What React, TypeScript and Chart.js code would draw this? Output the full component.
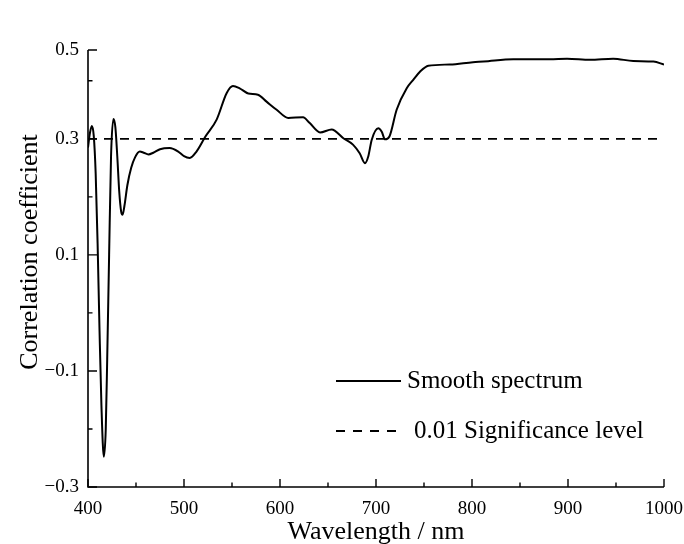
import React, { useEffect, useRef } from 'react';
import { Chart, registerables } from 'chart.js';

Chart.register(...registerables);

// ---- data ----
const wavelengths = [
  400, 402, 404, 406, 408, 410, 412, 414, 416.5, 418.5, 420, 422, 424, 426.5, 428.5, 430.5, 432.5, 434.5,
  436, 438, 441, 445, 449, 454, 458, 463, 468, 475, 485, 494, 500, 506, 513, 522, 534, 544.5, 551, 558,
  567, 577, 586, 596.5, 608.6, 624, 631, 641.7, 653.8, 666, 676, 683, 688.5, 692, 695.5, 702.4, 706,
  709.4, 714, 721.5, 732, 739, 746, 754.5, 777, 801, 812, 843, 881, 899, 923, 947, 968, 989, 1000,
];
const correlation = [
  0.285, 0.31, 0.322, 0.305, 0.24, 0.12, -0.03, -0.16, -0.248, -0.2, -0.08, 0.1, 0.27, 0.334, 0.32, 0.27,
  0.21, 0.175, 0.169, 0.185, 0.22, 0.25, 0.268, 0.278, 0.276, 0.273, 0.276, 0.282, 0.284, 0.278, 0.27,
  0.267, 0.278, 0.303, 0.333, 0.379, 0.391, 0.387, 0.378, 0.376, 0.364, 0.35, 0.336, 0.337, 0.327, 0.311,
  0.316, 0.301, 0.29, 0.275, 0.258, 0.27, 0.298, 0.318, 0.312, 0.299, 0.304, 0.35, 0.387, 0.402, 0.416,
  0.426, 0.428, 0.432, 0.433, 0.437, 0.437, 0.438, 0.436, 0.438, 0.434, 0.433, 0.428,
];
const significanceLevel = 0.3;
const seriesLabels = ['Smooth spectrum', '0.01 Significance level'];

const xMin = 400;
const xMax = 1000;
const yMin = -0.3;
const yMax = 0.453;
const xMajorTicks = [400, 500, 600, 700, 800, 900, 1000];
const xMajorLabels = ['400', '500', '600', '700', '800', '900', '1000'];
const xMinorTicks = [450, 550, 650, 750, 850, 950];
const yMajorTicks = [-0.3, -0.1, 0.1, 0.3, yMax];
const yMajorLabels = ['\u22120.3', '\u22120.1', '0.1', '0.3', '0.5'];
const yMinorTicks = [-0.2, 0, 0.2, 0.4];
const xTitle = 'Wavelength / nm';
const yTitle = 'Correlation coefficient';

const FONT = '"Liberation Serif", "DejaVu Serif", serif';

const axesPlugin = {
  id: 'customAxes',
  afterDraw(chart: any) {
    const ctx: CanvasRenderingContext2D = chart.ctx;
    const xs = chart.scales.x;
    const ys = chart.scales.y;
    const x0 = xs.getPixelForValue(xMin);
    const x1 = xs.getPixelForValue(xMax);
    const y0 = ys.getPixelForValue(yMin);
    const y1 = ys.getPixelForValue(yMax);
    ctx.save();
    ctx.strokeStyle = '#000';
    ctx.fillStyle = '#000';
    ctx.lineWidth = 1.6;
    ctx.lineCap = 'butt';
    ctx.beginPath();
    ctx.moveTo(x0, y1);
    ctx.lineTo(x0, y0);
    ctx.lineTo(x1, y0);
    ctx.stroke();

    ctx.lineWidth = 1.4;
    ctx.beginPath();
    xMajorTicks.forEach((v) => {
      const px = xs.getPixelForValue(v);
      ctx.moveTo(px, y0);
      ctx.lineTo(px, y0 - 8);
    });
    xMinorTicks.forEach((v) => {
      const px = xs.getPixelForValue(v);
      ctx.moveTo(px, y0);
      ctx.lineTo(px, y0 - 4.5);
    });
    yMajorTicks.forEach((v) => {
      const py = ys.getPixelForValue(v);
      ctx.moveTo(x0, py);
      ctx.lineTo(x0 + 9, py);
    });
    yMinorTicks.forEach((v) => {
      const py = ys.getPixelForValue(v);
      ctx.moveTo(x0, py);
      ctx.lineTo(x0 + 4.5, py);
    });
    ctx.stroke();

    // tick labels
    ctx.font = `19px ${FONT}`;
    ctx.textAlign = 'center';
    ctx.textBaseline = 'alphabetic';
    xMajorTicks.forEach((v, i) => {
      ctx.fillText(xMajorLabels[i], xs.getPixelForValue(v), 514);
    });
    ctx.textAlign = 'right';
    ctx.textBaseline = 'middle';
    yMajorTicks.forEach((v, i) => {
      ctx.fillText(yMajorLabels[i], x0 - 9, ys.getPixelForValue(v));
    });

    // axis titles
    ctx.font = `26px ${FONT}`;
    ctx.textAlign = 'center';
    ctx.textBaseline = 'alphabetic';
    ctx.fillText(xTitle, (x0 + x1) / 2, 539);
    ctx.save();
    ctx.translate(37, 252);
    ctx.rotate(-Math.PI / 2);
    ctx.fillText(yTitle, 0, 0);
    ctx.restore();

    // legend
    ctx.font = `25px ${FONT}`;
    ctx.textAlign = 'left';
    ctx.textBaseline = 'middle';
    const ly1 = 381;
    const ly2 = 431;
    ctx.lineWidth = 2;
    ctx.setLineDash([]);
    ctx.beginPath();
    ctx.moveTo(336, ly1);
    ctx.lineTo(401, ly1);
    ctx.stroke();
    ctx.fillText(chart.data.datasets[0].label, 407, ly1);
    ctx.lineWidth = 1.8;
    ctx.setLineDash([9, 8]);
    ctx.beginPath();
    ctx.moveTo(336, ly2);
    ctx.lineTo(400, ly2);
    ctx.stroke();
    ctx.setLineDash([]);
    ctx.fillText(chart.data.datasets[1].label, 414, ly2);
    ctx.restore();
  },
};

export default function App() {
  const canvasRef = useRef<HTMLCanvasElement | null>(null);

  useEffect(() => {
    if (!canvasRef.current) return;
    const chart = new Chart(canvasRef.current, {
      type: 'line',
      data: {
        datasets: [
          {
            label: seriesLabels[0],
            data: wavelengths.map((w, i) => ({ x: w, y: correlation[i] })),
            borderColor: '#000',
            borderWidth: 2,
            pointRadius: 0,
            fill: false,
            cubicInterpolationMode: 'monotone',
          },
          {
            label: seriesLabels[1],
            data: [
              { x: xMin, y: significanceLevel },
              { x: xMax, y: significanceLevel },
            ],
            borderColor: '#000',
            borderWidth: 1.8,
            borderDash: [9, 7],
            pointRadius: 0,
            fill: false,
          },
        ],
      },
      options: {
        animation: false,
        responsive: false,
        devicePixelRatio: 1,
        layout: { padding: { left: 88, right: 20, top: 50, bottom: 57 } },
        plugins: { legend: { display: false }, tooltip: { enabled: false } },
        scales: {
          x: { type: 'linear', min: xMin, max: xMax, display: false },
          y: { type: 'linear', min: yMin, max: yMax, display: false },
        },
      },
      plugins: [axesPlugin],
    });
    return () => chart.destroy();
  }, []);

  return (
    <div style={{ position: 'fixed', left: 0, top: 0, width: 684, height: 544, background: '#fff' }}>
      <canvas ref={canvasRef} width={684} height={544} />
    </div>
  );
}
